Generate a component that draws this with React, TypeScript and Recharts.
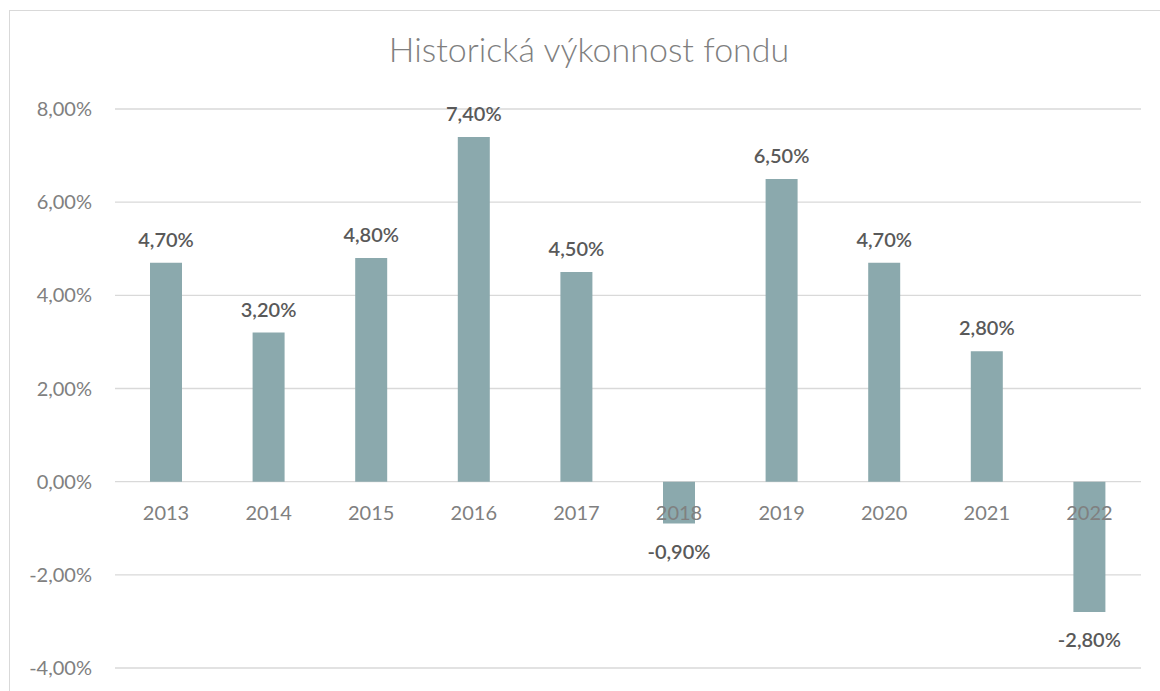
import { BarChart, Bar, XAxis, YAxis, CartesianGrid, LabelList } from 'recharts';

const years = ['2013', '2014', '2015', '2016', '2017', '2018', '2019', '2020', '2021', '2022'];
const returns = [4.7, 3.2, 4.8, 7.4, 4.5, -0.9, 6.5, 4.7, 2.8, -2.8];
const yTicks = [-4, -2, 0, 2, 4, 6, 8];

const data = years.map((year, i) => ({ year, value: returns[i] }));

const FONT = 'Lato, "Open Sans", sans-serif';
const fmt = (v: number) => v.toFixed(2).replace('.', ',') + '%';

// box of the bar, regardless of how the library signs the height
function barBox(props: any) {
  const vb = props.viewBox ?? props;
  const { x, y, width, height } = vb;
  return {
    cx: x + width / 2,
    top: Math.min(y, y + height),
    bottom: Math.max(y, y + height),
  };
}

function ValueLabel(props: any) {
  const v = returns[props.index];
  const { cx, top, bottom } = barBox(props);
  return (
    <text
      x={cx}
      y={v >= 0 ? top - 16 : bottom + 35}
      textAnchor="middle"
      fill="#595959"
      fontSize={20}
      fontWeight={600}
      fontFamily={FONT}
    >
      {fmt(v)}
    </text>
  );
}

// category labels sit on the zero line, like Excel does
function YearLabel(props: any) {
  const v = returns[props.index];
  const { cx, top, bottom } = barBox(props);
  const zero = v >= 0 ? bottom : top;
  return (
    <text x={cx} y={zero + 38} textAnchor="middle" fill="#808080" fontSize={20} fontFamily={FONT}>
      {years[props.index]}
    </text>
  );
}

export default function App() {
  return (
    <div style={{ position: 'absolute', left: 0, top: 0, width: 1160, height: 691, background: '#fff', overflow: 'hidden' }}>
      <div
        style={{
          position: 'absolute',
          left: 9,
          top: 10,
          width: 1200,
          height: 700,
          border: '1px solid #d9d9d9',
        }}
      />
      <div
        style={{
          position: 'absolute',
          left: 289,
          top: 28,
          width: 600,
          textAlign: 'center',
          fontFamily: FONT,
          fontWeight: 300,
          fontSize: 34,
          color: '#7f7f7f',
        }}
      >
        Historická výkonnost fondu
      </div>
      <BarChart
        width={1160}
        height={691}
        data={data}
        margin={{ top: 109, right: 19, left: 15, bottom: 23 }}
        style={{ position: 'absolute', left: 0, top: 0 }}
      >
        <CartesianGrid vertical={false} stroke="#d9d9d9" strokeWidth={1.3} />
        <XAxis dataKey="year" hide />
        <YAxis
          width={100}
          domain={[-4, 8]}
          ticks={yTicks}
          axisLine={false}
          tickLine={false}
          tickSize={0}
          tickMargin={23}
          tickFormatter={fmt}
          tick={{ fill: '#808080', fontSize: 20, fontFamily: FONT }}
        />
        <Bar dataKey="value" fill="#8ba9ad" barSize={32} isAnimationActive={false}>
          <LabelList dataKey="year" content={YearLabel} />
          <LabelList dataKey="value" content={ValueLabel} />
        </Bar>
      </BarChart>
    </div>
  );
}
